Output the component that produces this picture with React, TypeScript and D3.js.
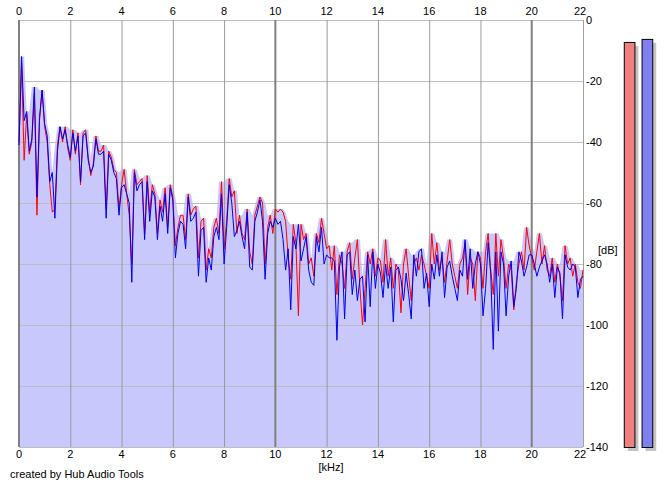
import * as d3 from 'd3';

// spectrum, one value every 0.1 kHz from 0 to 22 kHz (dB)
const blueDb = [
  -41, -12, -33, -30, -43, -39, -22, -58, -32, -23, -34, -38, -53, -50, -65, -43, -35, -39, -36, -41,
  -45, -37, -43, -38, -53, -38, -37, -46, -50, -48, -39, -44, -44, -43, -65, -44, -46, -50, -52, -64,
  -55, -54, -57, -60, -86, -50, -56, -54, -53, -72, -53, -66, -56, -58, -72, -61, -66, -57, -70, -55,
  -59, -78, -70, -66, -67, -75, -58, -66, -65, -63, -84, -69, -68, -86, -78, -82, -71, -68, -72, -57,
  -80, -68, -54, -60, -71, -69, -66, -71, -75, -63, -81, -82, -66, -63, -59, -66, -85, -70, -66, -68,
  -65, -67, -66, -72, -82, -75, -95, -71, -75, -67, -79, -75, -71, -82, -86, -87, -71, -76, -68, -80,
  -77, -78, -78, -79, -105, -81, -76, -98, -77, -76, -90, -82, -92, -85, -84, -99, -77, -94, -76, -88,
  -80, -83, -91, -80, -88, -81, -99, -82, -81, -85, -92, -83, -90, -98, -77, -84, -76, -75, -88, -83,
  -94, -80, -85, -77, -84, -76, -91, -81, -79, -84, -88, -92, -82, -84, -72, -85, -75, -88, -80, -76,
  -80, -97, -88, -73, -83, -108, -76, -102, -76, -80, -97, -84, -79, -94, -88, -76, -79, -84, -81, -77,
  -77, -80, -84, -81, -79, -77, -80, -86, -80, -91, -81, -83, -98, -77, -81, -82, -80, -81, -91, -85,
  -84,
];

const redDb = [
  -40, -14, -46, -31, -44, -40, -24, -64, -33, -23, -35, -40, -54, -63, -62, -41, -35, -40, -35, -42,
  -46, -36, -44, -37, -54, -37, -36, -45, -51, -47, -38, -43, -43, -41, -62, -43, -45, -49, -50, -62,
  -54, -49, -57, -64, -80, -49, -54, -53, -52, -70, -51, -63, -54, -57, -70, -59, -63, -55, -68, -54,
  -58, -74, -68, -64, -64, -72, -57, -64, -62, -61, -78, -66, -65, -82, -75, -78, -68, -65, -70, -53,
  -75, -66, -52, -58, -56, -70, -64, -70, -72, -62, -76, -80, -64, -61, -58, -60, -80, -68, -64, -70,
  -62, -63, -62, -63, -66, -78, -85, -67, -73, -97, -67, -72, -70, -80, -78, -84, -70, -73, -65, -70,
  -75, -74, -82, -74, -90, -77, -80, -88, -76, -73, -85, -78, -72, -88, -100, -88, -76, -80, -75, -84,
  -78, -79, -86, -72, -84, -78, -88, -80, -82, -96, -80, -75, -84, -92, -80, -78, -82, -77, -80, -84,
  -88, -70, -80, -73, -82, -78, -86, -79, -72, -80, -84, -88, -80, -78, -73, -90, -78, -80, -92, -76,
  -78, -88, -76, -70, -82, -90, -70, -84, -72, -78, -88, -80, -82, -95, -86, -80, -76, -82, -68, -74,
  -78, -82, -76, -70, -80, -74, -82, -84, -78, -86, -80, -84, -92, -74, -80, -78, -84, -80, -86, -88,
  -82,
];

const freqStep = 0.1; // kHz between samples
const freqTicks = [0, 2, 4, 6, 8, 10, 12, 14, 16, 18, 20, 22];
const majorFreqs = [0, 10, 20];
const dbTicks = [0, -20, -40, -60, -80, -100, -120, -140];
const meterNames = ['L', 'R'];
const meterDb = [-7.2, -6.2];
const meterColors = ['#f08080', '#8080f0'];

const font = '"Liberation Sans", Arial, sans-serif';

export default function App() {
  const width = 665;
  const height = 487;

  const x = d3.scaleLinear().domain([0, 22]).range([19, 583]);
  const y = d3.scaleLinear().domain([-140, 0]).range([447, 20]);

  // lavender fill follows the upper envelope of both channels
  const envelope = blueDb.map((_, i) => {
    const lo = Math.max(0, i - 1);
    const hi = Math.min(blueDb.length - 1, i + 1);
    return d3.max(d3.range(lo, hi + 1), j => Math.max(blueDb[j], redDb[j])) as number;
  });

  const area = d3.area<number>()
    .x((_, i) => x(i * freqStep))
    .y0(y(-140))
    .y1(d => y(d));

  const line = d3.line<number>()
    .x((_, i) => x(i * freqStep))
    .y(d => y(d));

  const meterX = d3.scaleBand().domain(meterNames).range([622, 654]).paddingInner(0.4).paddingOuter(0.1);

  // the last frequency label is pulled in so it clears the dB labels
  const labelX = (f: number) => Math.min(x(f), x(22) - 3);

  return (
    <svg width={width} height={height} style={{ position: 'absolute', left: 0, top: 0, background: '#fff' }}
      fontFamily={font} fontSize={11}>
      <path d={area(envelope) ?? ''} fill="#c8c8fc" />

      {/* horizontal grid */}
      {dbTicks.map(t => (
        <line key={'h' + t} x1={x(0)} x2={x(22)} y1={y(t) + 0.5} y2={y(t) + 0.5}
          stroke="#bdbdbd" strokeWidth={1} />
      ))}

      {/* vertical grid */}
      {freqTicks.filter(f => f < 22).map(f => {
        const major = majorFreqs.includes(f);
        return (
          <line key={'v' + f} x1={x(f) + (major ? 0 : 0.5)} x2={x(f) + (major ? 0 : 0.5)}
            y1={y(0)} y2={y(-140)} stroke={major ? '#808080' : '#9a9a9a'} strokeWidth={major ? 2 : 1} />
        );
      })}
      <line x1={x(22) + 0.5} x2={x(22) + 0.5} y1={y(0)} y2={y(-140)} stroke="#a0a0a0" />

      <path d={line(redDb) ?? ''} fill="none" stroke="#ff0000" strokeWidth={1} />
      <path d={line(blueDb) ?? ''} fill="none" stroke="#0000f0" strokeWidth={1} />

      {/* frequency labels */}
      {freqTicks.map(f => (
        <text key={'t' + f} x={labelX(f)} y={15} textAnchor="middle">{f}</text>
      ))}
      {freqTicks.map(f => (
        <text key={'b' + f} x={labelX(f)} y={458} textAnchor="middle">{f}</text>
      ))}
      <text x={331} y={471} textAnchor="middle">[kHz]</text>

      {/* level labels */}
      {dbTicks.map(t => (
        <text key={'d' + t} x={586} y={y(t) + 3.5}>{t}</text>
      ))}
      <text x={598} y={254}>[dB]</text>

      <text x={10} y={478}>created by Hub Audio Tools</text>

      {/* level meters */}
      {meterNames.map((n, i) => {
        const bx = meterX(n) as number;
        const bw = meterX.bandwidth();
        return (
          <g key={n}>
            <rect x={bx + 4} y={y(meterDb[i]) + 4} width={bw} height={y(-140) - y(meterDb[i])} fill="#c4c4c4" />
            <rect x={bx + 0.5} y={y(meterDb[i]) + 0.5} width={bw} height={y(-140) - y(meterDb[i])}
              fill={meterColors[i]} stroke="#000" strokeWidth={1} />
          </g>
        );
      })}
    </svg>
  );
}
